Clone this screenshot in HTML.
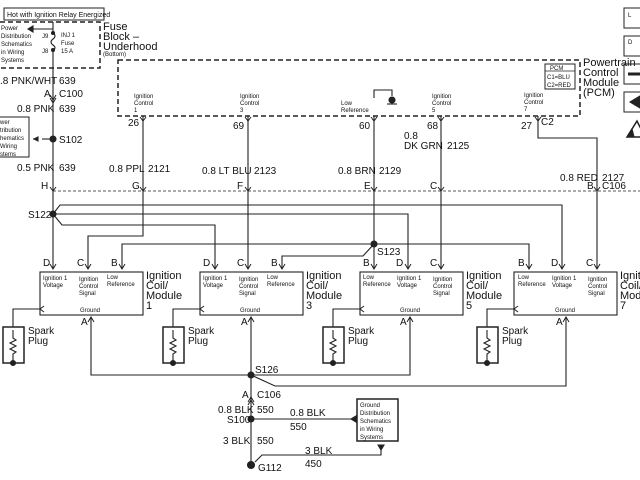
<!DOCTYPE html>
<html><head><meta charset="utf-8"><style>
html,body{margin:0;padding:0;background:#fff;}
svg{display:block;}
text{font-family:"Liberation Sans",sans-serif;fill:#111;}
.b{font-size:10px;}
.s{font-size:6px;}
.m{font-size:11px;}
</style></head><body>
<svg width="640" height="480" viewBox="0 0 640 480" xmlns="http://www.w3.org/2000/svg">
<g fill="none" stroke="#222" stroke-width="1.1">
<rect x="4" y="8" width="100" height="12" stroke-width="1"/>
<path d="M0,22 H100 V68 H0" stroke-dasharray="5,3" stroke-width="1.5"/>
<rect x="118" y="60" width="462" height="56" stroke-dasharray="5,3" stroke-width="1.5"/>
<rect x="545" y="64" width="30" height="25" stroke-width="1"/>
<line x1="545" y1="71" x2="575" y2="71" stroke-width="0.8"/>
<path d="M53,22 V33"/>
<path d="M53,33 q4,3 0,6 q-4,3 0,6 q4,3 0,5"/>
<path d="M53,50 V268"/>
<path d="M53,29 H30"/>
<path d="M33,26 L28,29 L33,32 Z" fill="#222"/>
<circle cx="53" cy="33" r="1.5" fill="#222"/>
<circle cx="53" cy="50" r="1.5" fill="#222"/>
<path d="M53,139 H42"/><path d="M36,139 H33"/>
<path d="M38,137 L34,139 L38,141 Z" fill="#222"/>
<circle cx="53" cy="139" r="3" fill="#222"/>
<rect x="-2" y="117" width="31" height="40" stroke-width="1"/>
<line x1="53" y1="191" x2="640" y2="191" stroke-dasharray="3,2" stroke-width="0.8"/>
<path d="M143,116 V236 H88 V268"/>
<path d="M248,116 V268"/>
<path d="M374,116 V244"/>
<path d="M374,244 V268"/>
<path d="M441,116 V268"/>
<path d="M538,116 V138 H597 V268"/>
<path d="M374,98 V90 H392 V96"/>
<circle cx="392" cy="100" r="3" fill="#222"/>
<line x1="387" y1="104" x2="397" y2="104"/>
<circle cx="53" cy="214" r="3" fill="#222"/>
<path d="M53,214 L60,205 H562 V268"/>
<path d="M53,214 H408 V268"/>
<path d="M53,214 L62,225 H215 V268"/>
<path d="M122,268 V244 H374"/>
<path d="M374,244 H529 V268"/>
<path d="M282,268 V256 H363 L374,244"/>
<circle cx="374" cy="244" r="3" fill="#222"/>
<rect x="40" y="272" width="103" height="43"/>
<rect x="200" y="272" width="103" height="43"/>
<rect x="360" y="272" width="103" height="43"/>
<rect x="514" y="272" width="103" height="43"/>
<path d="M91,318 V375 H251"/>
<path d="M251,318 V465"/>
<path d="M251,375 H410 V318"/>
<path d="M566,318 V386 H275 L251,375"/>
<circle cx="251" cy="375" r="3" fill="#222"/>
<circle cx="251" cy="419" r="3" fill="#222"/>
<circle cx="251" cy="465" r="3.5" fill="#222"/>
<path d="M251,419 H352"/>
<path d="M356,416 L351,419 L356,422 Z" fill="#222"/>
<rect x="357" y="399" width="41" height="42" stroke-width="1.5"/>
<path d="M255,462 L262,455 H381 V446"/>
<path d="M378,445 L381,450 L384,445 Z" fill="#222"/>
<g id="sp">
<path d="M40,309 H13 V327"/>
<rect x="3" y="327" width="21" height="36" stroke-width="1.5"/>
<path d="M13,330 V338 l3,2 l-6,3 l6,3 l-6,3 l6,3 l-3,2 V363"/>
<circle cx="13" cy="363" r="2.5" fill="#222"/>
</g>
<use href="#sp" x="160"/>
<use href="#sp" x="320"/>
<use href="#sp" x="474"/>
<rect x="624" y="8" width="20" height="20" stroke-width="1"/>
<rect x="624" y="36" width="20" height="20" stroke-width="1"/>
<rect x="624" y="64" width="20" height="20" stroke-width="1"/>
<rect x="624" y="92" width="20" height="20" stroke-width="1"/>
<path d="M628,74 H640" stroke-width="3"/>
<path d="M640,96 L630,102 L640,108 Z" fill="#222"/>
<path d="M627,137 L637,121 L645,137 Z" stroke-width="1.5"/>
<path d="M627,137 L632,129 L634,137 Z" fill="#222"/>
</g>
<g fill="none" stroke="#222" stroke-width="1">
<path d="M50,264 L53,269 L56,264 M85,264 L88,269 L91,264 M119,264 L122,269 L125,264 M212,264 L215,269 L218,264 M245,264 L248,269 L251,264 M279,264 L282,269 L285,264 M371,264 L374,269 L377,264 M405,264 L408,269 L411,264 M438,264 L441,269 L444,264 M526,264 L529,269 L532,264 M559,264 L562,269 L565,264 M594,264 L597,269 L600,264"/>
<path d="M88,322 L91,317 L94,322 M248,322 L251,317 L254,322 M407,322 L410,317 L413,322 M563,322 L566,317 L569,322"/>
<path d="M50,95 L53,100 L56,95 M50,98 L53,103 L56,98"/>
<path d="M50,187 L53,191 L56,187 M140,187 L143,191 L146,187 M245,187 L248,191 L251,187 M371,187 L374,191 L377,187 M438,187 L441,191 L444,187 M594,187 L597,191 L600,187"/>
<path d="M140,117 L143,121 L146,117 M245,117 L248,121 L251,117 M371,117 L374,121 L377,117 M438,117 L441,121 L444,117 M535,117 L538,121 L541,117"/>
<path d="M248,405 L251,400 L254,405 M248,402 L251,397 L254,402"/>
<path d="M44,306 L40,309 L44,312 M204,306 L200,309 L204,312 M364,306 L360,309 L364,312 M518,306 L514,309 L518,312"/>
</g>
<text x="7" y="17" style="font-size:7px">Hot with Ignition Relay Energized</text>
<text class="s" x="1" y="30">Power</text>
<text class="s" x="1" y="38">Distribution</text>
<text class="s" x="1" y="46">Schematics</text>
<text class="s" x="1" y="54">in Wiring</text>
<text class="s" x="1" y="62">Systems</text>
<text class="s" x="42" y="38">J9</text>
<text class="s" x="42" y="53">J8</text>
<text class="s" x="61" y="37">INJ 1</text>
<text class="s" x="61" y="45">Fuse</text>
<text class="s" x="61" y="53">15 A</text>
<text class="m" x="103" y="30">Fuse</text>
<text class="m" x="103" y="40">Block –</text>
<text class="m" x="103" y="50">Underhood</text>
<text class="s" x="103" y="56">(Bottom)</text>
<text class="b" x="0" y="84">.8 PNK/WHT</text><text class="b" x="59" y="84">639</text>
<text class="b" x="44" y="97">A</text><text class="b" x="59" y="97">C100</text>
<text class="b" x="17" y="112">0.8 PNK</text><text class="b" x="59" y="112">639</text>
<text class="s" x="0" y="124">wer</text>
<text class="s" x="0" y="132">tribution</text>
<text class="s" x="0" y="140">hematics</text>
<text class="s" x="0" y="148">Wiring</text>
<text class="s" x="0" y="156">stems</text>
<text class="b" x="59" y="143">S102</text>
<text class="b" x="17" y="171">0.5 PNK</text><text class="b" x="59" y="171">639</text>
<text class="b" x="41" y="189">H</text>
<text class="b" x="28" y="218">S122</text>
<text class="s" x="134" y="98">Ignition</text><text class="s" x="134" y="105">Control</text><text class="s" x="134" y="112">1</text>
<text class="s" x="240" y="98">Ignition</text><text class="s" x="240" y="105">Control</text><text class="s" x="240" y="112">3</text>
<text class="s" x="341" y="105">Low</text><text class="s" x="341" y="112">Reference</text>
<text class="s" x="432" y="98">Ignition</text><text class="s" x="432" y="105">Control</text><text class="s" x="432" y="112">5</text>
<text class="s" x="524" y="97">Ignition</text><text class="s" x="524" y="104">Control</text><text class="s" x="524" y="111">7</text>
<text class="s" x="550" y="70">PCM</text>
<text class="s" x="547" y="79">C1=BLU</text>
<text class="s" x="547" y="87">C2=RED</text>
<text class="m" x="583" y="66">Powertrain</text>
<text class="m" x="583" y="76">Control</text>
<text class="m" x="583" y="86">Module</text>
<text class="m" x="583" y="96">(PCM)</text>
<text class="b" x="128" y="126">26</text>
<text class="b" x="233" y="129">69</text>
<text class="b" x="359" y="129">60</text>
<text class="b" x="427" y="129">68</text>
<text class="b" x="521" y="129">27</text>
<text class="b" x="541" y="125">C2</text>
<text class="b" x="404" y="139">0.8</text>
<text class="b" x="404" y="149">DK GRN</text><text class="b" x="447" y="149">2125</text>
<text class="b" x="109" y="172">0.8 PPL</text><text class="b" x="148" y="172">2121</text>
<text class="b" x="202" y="174">0.8 LT BLU</text><text class="b" x="254" y="174">2123</text>
<text class="b" x="338" y="174">0.8 BRN</text><text class="b" x="379" y="174">2129</text>
<text class="b" x="560" y="181">0.8 RED</text><text class="b" x="602" y="181">2127</text>
<text class="b" x="132" y="189">G</text>
<text class="b" x="237" y="189">F</text>
<text class="b" x="364" y="189">E</text>
<text class="b" x="430" y="189">C</text>
<text class="b" x="587" y="189">B</text><text class="b" x="602" y="189">C106</text>
<text class="b" x="377" y="255">S123</text>
<text class="b" x="43" y="266">D</text><text class="b" x="77" y="266">C</text><text class="b" x="111" y="266">B</text>
<text class="b" x="203" y="266">D</text><text class="b" x="237" y="266">C</text><text class="b" x="271" y="266">B</text>
<text class="b" x="363" y="266">B</text><text class="b" x="396" y="266">D</text><text class="b" x="430" y="266">C</text>
<text class="b" x="518" y="266">B</text><text class="b" x="551" y="266">D</text><text class="b" x="586" y="266">C</text>
<g id="mt1">
<text class="s" x="43" y="280">Ignition 1</text><text class="s" x="43" y="287">Voltage</text>
<text class="s" x="79" y="281">Ignition</text><text class="s" x="79" y="288">Control</text><text class="s" x="79" y="295">Signal</text>
<text class="s" x="107" y="279">Low</text><text class="s" x="107" y="286">Reference</text>
<text class="s" x="80" y="312">Ground</text>
</g>
<use href="#mt1" x="160"/>
<g id="mt5">
<text class="s" x="363" y="279">Low</text><text class="s" x="363" y="286">Reference</text>
<text class="s" x="397" y="280">Ignition 1</text><text class="s" x="397" y="287">Voltage</text>
<text class="s" x="433" y="281">Ignition</text><text class="s" x="433" y="288">Control</text><text class="s" x="433" y="295">Signal</text>
<text class="s" x="400" y="312">Ground</text>
</g>
<use href="#mt5" x="155"/>
<text class="m" x="146" y="279">Ignition</text><text class="m" x="146" y="289">Coil/</text><text class="m" x="146" y="299">Module</text><text class="m" x="146" y="309">1</text>
<text class="m" x="306" y="279">Ignition</text><text class="m" x="306" y="289">Coil/</text><text class="m" x="306" y="299">Module</text><text class="m" x="306" y="309">3</text>
<text class="m" x="466" y="279">Ignition</text><text class="m" x="466" y="289">Coil/</text><text class="m" x="466" y="299">Module</text><text class="m" x="466" y="309">5</text>
<text class="m" x="620" y="279">Ignition</text><text class="m" x="620" y="289">Coil/</text><text class="m" x="620" y="299">Module</text><text class="m" x="620" y="309">7</text>
<text class="b" x="81" y="325">A</text><text class="b" x="241" y="325">A</text><text class="b" x="400" y="325">A</text><text class="b" x="556" y="325">A</text>
<g id="spt"><text class="b" x="28" y="334">Spark</text><text class="b" x="28" y="344">Plug</text></g>
<use href="#spt" x="160"/><use href="#spt" x="320"/><use href="#spt" x="474"/>
<text class="b" x="255" y="373">S126</text>
<text class="b" x="242" y="398">A</text><text class="b" x="257" y="398">C106</text>
<text class="b" x="218" y="413">0.8 BLK</text><text class="b" x="257" y="413">550</text>
<text class="b" x="227" y="423">S100</text>
<text class="b" x="290" y="416">0.8 BLK</text><text class="b" x="290" y="430">550</text>
<text class="b" x="223" y="444">3 BLK</text><text class="b" x="257" y="444">550</text>
<text class="b" x="305" y="454">3 BLK</text><text class="b" x="305" y="467">450</text>
<text class="b" x="258" y="471">G112</text>
<text class="s" x="360" y="407">Ground</text><text class="s" x="360" y="415">Distribution</text><text class="s" x="360" y="423">Schematics</text><text class="s" x="360" y="431">in Wiring</text><text class="s" x="360" y="439">Systems</text>
<text style="font-size:6px" x="628" y="17">L</text><text style="font-size:6px" x="628" y="44">D</text>
</svg>
</body></html>
